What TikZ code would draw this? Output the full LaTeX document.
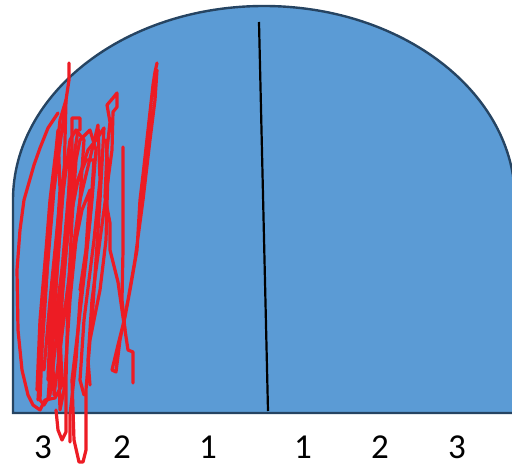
\documentclass[tikz,border=0pt]{standalone}
\usepackage{fontspec}
\setmainfont{Carlito}
\usepackage{tikz}
\definecolor{dome}{RGB}{91,155,213}
\definecolor{domeline}{RGB}{38,68,98}
\definecolor{ink}{RGB}{237,28,36}

\begin{document}
\begin{tikzpicture}[x=1pt, y=-1pt,
    pen/.style={ink, line width=3.2pt, line join=round, line cap=round},
    lbl/.style={font=\fontsize{35}{40}\selectfont, inner sep=0pt}]
    \useasboundingbox (0,0) rectangle (512,465);

    \coordinate (BL) at (13, 413);
    \coordinate (BR) at (515, 413);
    \coordinate (L) at (13, 200);
    \coordinate (T) at (259, 22);
    \coordinate (B) at (268, 411);

    % the dome, cut at the right edge
    \begin{scope}
    \clip (0,0) rectangle (512,465);
    \filldraw[fill=dome, draw=domeline, line width=2.4pt]
        (BL) -- (L) arc[start angle=180, end angle=360, x radius=251, y radius=194]
        -- (BR) -- cycle;
    \end{scope}

    \draw[line width=2.2pt] (T) -- (B);

    % labels
    \node[lbl] (l3) at (43, 447) {3};
    \node[lbl] (l2) at (122, 447) {2};
    \node[lbl] (l1) at (208, 447) {1};
    \node[lbl] (r1) at (303, 447) {1};
    \node[lbl] (r2) at (380, 447) {2};
    \node[lbl] (r3) at (457, 447) {3};

    % scribbles
    \draw[pen] (58,113) -- (48,128) -- (40,148) -- (34,165) -- (24,200) -- (20,230) -- (17,270)
        -- (18,330) -- (22,370) -- (28,395) -- (33,405) -- (40,410) -- (45,400) -- (55,398)
        -- (62,385) -- (60,330) -- (64,260) -- (70,200) -- (75,150) -- (78,130);
    \draw[pen] (69,63) -- (69,80) -- (66,100) -- (60,120) -- (56,160) -- (50,220) -- (46,290)
        -- (42,350) -- (40,400) -- (44,405) -- (50,395) -- (56,340) -- (62,270) -- (68,200)
        -- (72,150) -- (72,118) -- (80,118) -- (80,130);
    \draw[pen] (56,410) -- (58,430) -- (62,440) -- (66,432) -- (66,380) -- (68,300) -- (72,220)
        -- (76,160) -- (80,140) -- (90,130) -- (96,150) -- (92,200) -- (86,260) -- (78,330)
        -- (72,380) -- (74,440) -- (79,462) -- (83,462) -- (86,450) -- (86,390) -- (90,340)
        -- (100,290) -- (106,240) -- (108,170) -- (106,140);
    \draw[pen] (133,383) -- (133,352) -- (128,350) -- (125,330) -- (123,317) -- (118,282)
        -- (110,250) -- (110,223) -- (105,197) -- (107,150) -- (110,122) -- (107,105)
        -- (113,98) -- (117,93) -- (117,107) -- (113,112) -- (112,150) -- (108,180)
        -- (100,240) -- (92,300) -- (88,360) -- (90,385);
    \draw[pen] (157,63) -- (155,72) -- (153,85) -- (148,130) -- (143,175) -- (140,200)
        -- (137,250) -- (130,290) -- (125,317) -- (118,345) -- (112,370) -- (116,372)
        -- (120,340) -- (128,300) -- (135,260) -- (143,200) -- (150,140) -- (155,100) -- (157,70);
    \draw[pen] (123,147) -- (123,250) -- (122,300) -- (125,330);
    \draw[pen] (48,400) -- (55,300) -- (62,200) -- (70,140) -- (76,130) -- (84,140) -- (80,200)
        -- (70,300) -- (64,390) -- (60,410) -- (58,340) -- (66,250) -- (74,190) -- (86,160)
        -- (94,160) -- (90,220) -- (80,300) -- (76,360) -- (70,415) -- (70,442);
    \draw[pen] (38,400) -- (42,330) -- (48,260) -- (54,190) -- (62,130) -- (66,100) -- (64,180)
        -- (58,260) -- (52,340) -- (54,395) -- (60,350) -- (70,270) -- (80,200) -- (92,150)
        -- (98,125) -- (100,180) -- (94,240) -- (84,320) -- (80,380) -- (84,395);
    \draw[pen] (37,390) -- (40,320) -- (46,250) -- (50,200) -- (56,150) -- (58,130) -- (60,190)
        -- (56,250) -- (50,330) -- (48,380) -- (58,300) -- (66,240) -- (78,180) -- (88,150)
        -- (96,140) -- (104,128) -- (100,200) -- (96,260) -- (92,320);
    \draw[pen] (44,370) -- (50,300) -- (58,220) -- (64,170) -- (70,150) -- (68,230) -- (62,300)
        -- (58,370) -- (62,330) -- (72,260) -- (82,210) -- (90,190) -- (86,250) -- (80,290);
\end{tikzpicture}
\end{document}
